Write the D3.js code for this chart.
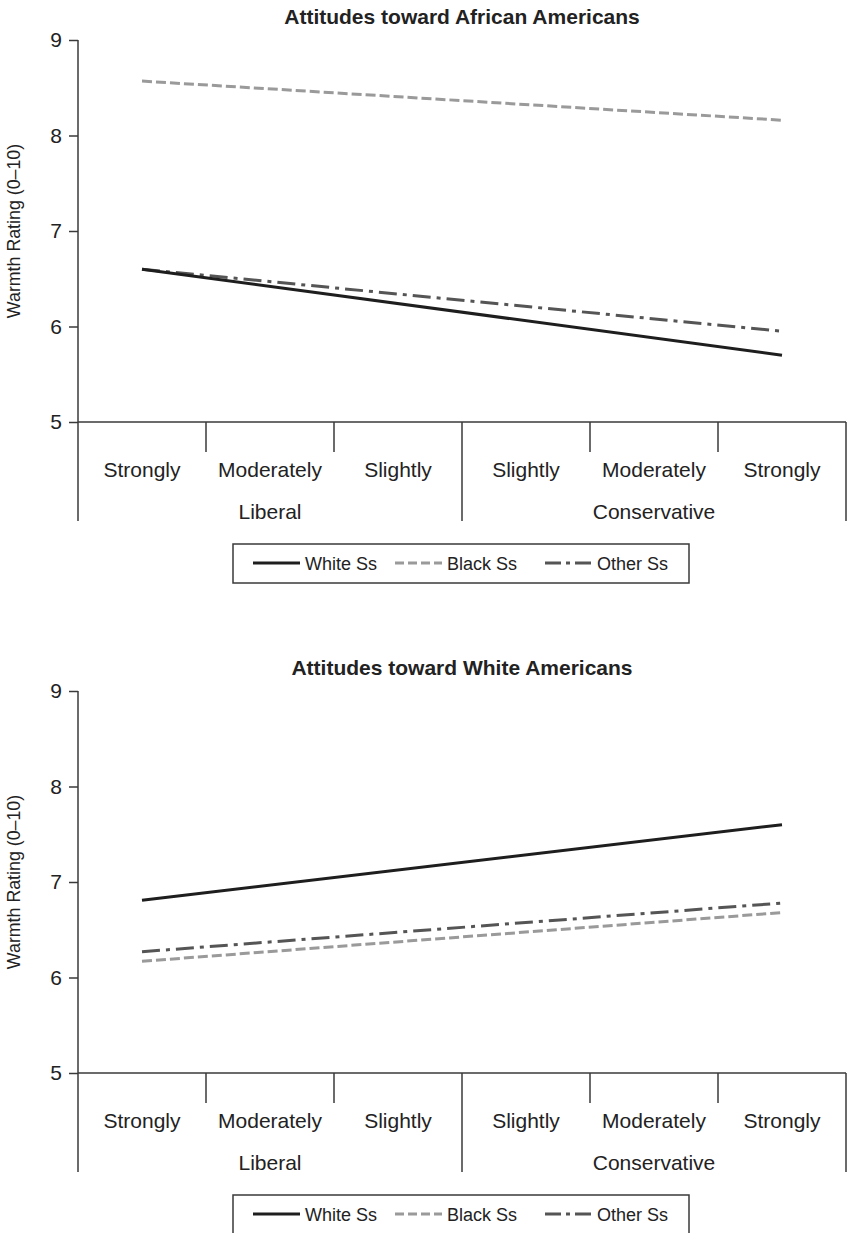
<!DOCTYPE html>
<html><head><meta charset="utf-8">
<script src="https://cdn.jsdelivr.net/npm/d3@7"></script>
<style>body{margin:0;background:#fff}svg{display:block}text{font-family:"Liberation Sans",Arial,sans-serif;fill:#222}</style>
</head><body><svg id="c" width="847" height="1233"></svg>
<script>
const categories = ["Strongly","Moderately","Slightly","Slightly","Moderately","Strongly"];
const groups = ["Liberal","Conservative"];
const yTicks = [5,6,7,8,9];
const seriesNames = ["White Ss","Black Ss","Other Ss"];
const titles = ["Attitudes toward African Americans","Attitudes toward White Americans"];
// values at "Strongly Liberal" (index 0) and "Strongly Conservative" (index 5)
const africanWhite = [6.60, 5.70];
const africanBlack = [8.57, 8.16];
const africanOther = [6.60, 5.95];
const whiteWhite = [6.81, 7.60];
const whiteBlack = [6.17, 6.68];
const whiteOther = [6.27, 6.78];
const endIdx = [0, 5];

const panels = [
  {title: titles[0], series: [africanWhite, africanBlack, africanOther], off: 0},
  {title: titles[1], series: [whiteWhite, whiteBlack, whiteOther], off: 651}
];
const styles = [
  {stroke:"#1e1e1e", dash:null},
  {stroke:"#9a9a9a", dash:"10,4"},
  {stroke:"#555555", dash:"18,6,4,6"}
];
const svg = d3.select("#c");
const x = d3.scaleBand().domain(d3.range(6)).range([78, 846]).padding(0);
const axisCol = "#3a3a3a";

panels.forEach(p => {
  const g = svg.append("g").attr("transform", `translate(0,${p.off})`);
  const y = d3.scaleLinear().domain([5,9]).range([422, 40]);
  const base = y(5), bottom = 521;
  g.append("text").attr("x", 462).attr("y", 24).attr("text-anchor","middle")
    .style("font-weight","bold").style("font-size","21px").text(p.title);
  // y axis
  const ya = g.append("g").attr("transform","translate(78,0)")
    .call(d3.axisLeft(y).tickValues(yTicks).tickFormat(d3.format("d")).tickSize(9).tickPadding(7));
  ya.select(".domain").remove();
  ya.selectAll(".tick line").attr("stroke", axisCol).attr("stroke-width",1.5);
  ya.selectAll(".tick text").style("font-size","21px").style("font-family","Liberation Sans, Arial, sans-serif").attr("fill","#222");
  g.append("line").attr("x1",78).attr("x2",78).attr("y1",y(9)).attr("y2",bottom)
    .attr("stroke",axisCol).attr("stroke-width",1.5);
  g.append("line").attr("x1",78).attr("x2",846).attr("y1",base).attr("y2",base)
    .attr("stroke",axisCol).attr("stroke-width",1.5);
  // dividers
  d3.range(1,7).forEach(i => {
    const xx = x(i-1) + x.bandwidth();
    const long = (i === 3 || i === 6);
    g.append("line").attr("x1",xx).attr("x2",xx).attr("y1",base).attr("y2", long ? bottom : base+30)
      .attr("stroke",axisCol).attr("stroke-width",1.5);
  });
  categories.forEach((c,i) => {
    g.append("text").attr("x", x(i)+x.bandwidth()/2).attr("y", 477).attr("text-anchor","middle")
      .style("font-size","21px").text(c);
  });
  groups.forEach((gr,i) => {
    g.append("text").attr("x", x(i*3+1)+x.bandwidth()/2).attr("y", 519).attr("text-anchor","middle")
      .style("font-size","21px").text(gr);
  });
  g.append("text").attr("transform","translate(20,231) rotate(-90)").attr("text-anchor","middle")
    .style("font-size","17.8px").text("Warmth Rating (0\u201310)");
  // lines
  const line = d3.line().x((d,i) => x(endIdx[i]) + x.bandwidth()/2).y(d => y(d));
  [1,2,0].forEach(k => {
    g.append("path").datum(p.series[k]).attr("d", line).attr("fill","none")
      .attr("stroke", styles[k].stroke).attr("stroke-width",3)
      .attr("stroke-dasharray", styles[k].dash);
  });
  // legend
  const lg = g.append("g");
  lg.append("rect").attr("x",233).attr("y",544).attr("width",456).attr("height",39)
    .attr("fill","none").attr("stroke",axisCol).attr("stroke-width",1.5);
  const lx = [253, 395, 545];
  const lsd = [null, "9,4", "16,5,4,5"];
  seriesNames.forEach((n,k) => {
    lg.append("line").attr("x1",lx[k]).attr("x2",lx[k]+47).attr("y1",563).attr("y2",563)
      .attr("stroke",styles[k].stroke).attr("stroke-width",3).attr("stroke-dasharray", lsd[k]);
    lg.append("text").attr("x",lx[k]+52).attr("y",570).style("font-size","18px").text(n);
  });
});
</script></body></html>
